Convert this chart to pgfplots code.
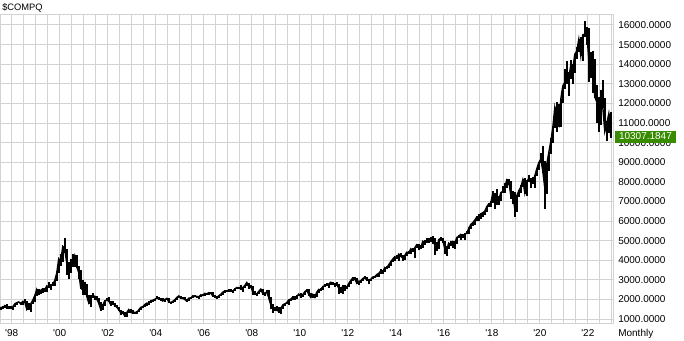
\documentclass[border=0pt]{standalone}
\usepackage{pgfplots}
\pgfplotsset{compat=1.18}
\usepackage{pgfplotstable}
\usepackage{fontspec}
\newfontfamily\lf{Liberation Sans}
\definecolor{gridc}{RGB}{211,211,211}
\definecolor{lastg}{RGB}{56,140,0}
\pgfplotstableread{
h l c
1605 1441 1594
1650 1560 1587
1700 1580 1686
1745 1530 1594
1650 1535 1601
1650 1540 1570
1625 1465 1619
1775 1615 1771
1840 1740 1835
1890 1820 1868
1880 1775 1779
1900 1740 1895
2015 1860 1872
1895 1480 1499
1800 1470 1694
1780 1357 1771
1950 1750 1950
2200 1880 2193
2540 2170 2506
2540 2250 2288
2490 2280 2461
2600 2350 2542
2590 2400 2471
2690 2390 2686
2870 2620 2638
2740 2490 2739
2890 2680 2746
2970 2680 2966
3440 2950 3336
4070 3330 4069
4300 3710 3940
4700 3930 4697
5132 4350 4573
4580 3220 3861
3920 3040 3401
4050 3360 3966
4300 3650 3767
4250 3640 4206
4260 3600 3673
3700 3040 3370
3500 2590 2598
2980 2250 2471
2890 2250 2773
2780 2150 2152
2230 1780 1840
2200 1620 2116
2320 2050 2110
2190 1990 2161
2150 1950 2027
2080 1800 1805
1850 1387 1499
1760 1480 1690
1940 1680 1931
2060 1910 1950
2100 1880 1934
1930 1700 1731
1930 1720 1845
1840 1660 1688
1690 1550 1616
1630 1440 1463
1480 1200 1328
1430 1290 1315
1350 1170 1172
1360 1108 1330
1480 1320 1479
1520 1330 1336
1470 1310 1321
1380 1270 1338
1430 1250 1341
1480 1340 1464
1600 1460 1596
1680 1590 1623
1760 1620 1735
1815 1670 1810
1910 1780 1787
1940 1800 1932
1980 1880 1960
2010 1920 2003
2150 2000 2066
2110 2000 2030
2060 1900 1994
2080 1920 1920
2000 1870 1987
2070 1960 2048
2060 1860 1887
1890 1750 1838
1920 1830 1897
1990 1880 1975
2110 1970 2097
2180 2080 2175
2190 2030 2062
2100 2020 2052
2110 1970 1999
2010 1890 1922
2080 1920 2068
2110 2040 2057
2190 2050 2185
2220 2120 2152
2170 2090 2152
2150 2030 2120
2240 2110 2233
2280 2200 2205
2330 2190 2306
2300 2230 2281
2340 2250 2340
2375 2300 2323
2360 2150 2179
2200 2070 2172
2180 2010 2091
2190 2050 2184
2260 2150 2258
2370 2240 2367
2470 2350 2432
2470 2390 2415
2510 2390 2464
2530 2400 2416
2460 2330 2422
2560 2410 2525
2620 2510 2605
2640 2540 2603
2730 2540 2546
2640 2390 2596
2720 2560 2702
2860 2690 2859
2850 2540 2661
2740 2580 2652
2660 2200 2390
2420 2250 2271
2340 2150 2279
2430 2270 2413
2550 2390 2523
2550 2290 2293
2340 2170 2326
2480 2310 2368
2460 2040 2092
2140 1490 1721
1780 1300 1536
1620 1400 1577
1670 1440 1476
1600 1370 1378
1590 1265 1529
1730 1490 1717
1780 1650 1774
1880 1770 1835
1990 1730 1979
2040 1940 2009
2170 1990 2122
2190 2040 2045
2200 2020 2145
2295 2150 2269
2330 2140 2147
2250 2100 2238
2420 2240 2398
2535 2390 2461
2520 2170 2257
2330 2110 2109
2300 2060 2255
2300 2100 2114
2380 2110 2369
2520 2350 2507
2590 2470 2498
2675 2500 2653
2770 2650 2700
2840 2690 2782
2790 2600 2781
2890 2730 2874
2890 2760 2835
2840 2630 2774
2890 2740 2756
2770 2300 2579
2650 2330 2415
2750 2300 2684
2720 2440 2620
2680 2520 2605
2820 2620 2814
2990 2810 2967
3130 2940 3092
3135 2970 3046
3080 2780 2827
2940 2730 2935
2990 2840 2940
3080 2920 3067
3200 3060 3116
3130 2970 2977
3020 2810 3010
3050 2940 3020
3150 3050 3142
3200 3110 3160
3270 3150 3268
3340 3150 3329
3530 3320 3456
3490 3290 3403
3630 3400 3626
3700 3580 3590
3800 3580 3771
3950 3700 3920
4070 3890 4060
4180 3980 4177
4250 4080 4104
4320 3970 4308
4370 4170 4199
4280 3950 4115
4250 4030 4243
4410 4220 4408
4490 4340 4370
4590 4320 4580
4610 4480 4493
4640 4120 4631
4810 4620 4792
4815 4540 4736
4780 4560 4635
4970 4630 4964
5040 4800 4901
5120 4860 4941
5110 4900 5070
5160 4950 4987
5230 4840 5128
5120 4290 4777
4920 4490 4620
5060 4580 5054
5160 5000 5109
5150 4900 5007
5000 4310 4614
4700 4210 4558
4900 4550 4870
4970 4750 4775
4960 4600 4948
4990 4570 4843
5180 4840 5162
5270 5120 5213
5340 5030 5312
5340 5150 5189
5400 5030 5324
5490 5320 5383
5670 5360 5615
5870 5600 5825
5930 5770 5912
6070 5800 6048
6230 5990 6199
6340 6020 6140
6430 6090 6348
6440 6180 6429
6500 6330 6496
6750 6480 6728
6910 6690 6874
7000 6720 6903
7510 6930 7411
7430 6630 7273
7640 6800 7063
7290 6800 7066
7480 7030 7442
7810 7420 7510
7930 7430 7672
8130 7660 8110
8130 7860 8046
8050 7120 7306
7520 6880 7331
7490 6190 6635
7340 6450 7282
7590 7250 7533
7850 7440 7729
8140 7730 8095
8170 7440 7453
8070 7290 8006
8340 7980 8175
8200 7660 7963
8230 7870 7999
8340 7700 8292
8710 8300 8665
9000 8600 8973
9450 8940 9151
9840 8450 8567
9070 6631 7700
8980 7380 8890
9530 8550 9490
10220 9400 10059
10840 10000 10745
11830 10750 11775
12070 10520 11168
11970 10820 10912
12230 10820 12199
12900 12020 12888
13730 12730 13071
14180 13000 13192
13620 12400 13247
14210 13230 13962
14010 13000 13749
14530 13570 14504
14860 14270 14673
15290 14600 15259
15400 14440 14449
15510 14180 15498
16212 15400 15538
15900 15000 15645
15850 13095 14240
14620 13320 13751
14650 12550 14221
14290 12330 12335
12940 11000 12081
12320 10565 11029
12700 10920 12391
13180 11810 11816
12270 10680 10576
11120 10090 10988
11470 10500 11468
11570 10210 10307
}\compq
\begin{document}
\begin{tikzpicture}
\path[use as bounding box] (0,0) rectangle (513pt,255pt);
\begin{axis}[
  at={(0pt,12.75pt)}, anchor=south west,
  width=459.75pt, height=231.75pt, scale only axis,
  xmin=1997.51, xmax=2023.05, ymin=796, ymax=16561,
  scaled y ticks=false, scaled x ticks=false,
  axis line style={draw=gridc, line width=0.75pt},
  xtick={1998,2000,...,2022},
  xticklabels={'98,'00,'02,'04,'06,'08,'10,'12,'14,'16,'18,'20,'22},
  minor xtick={1998.5,1999,...,2023},
  ytick={1000,2000,...,16000},
  yticklabels={1000.0000,2000.0000,3000.0000,4000.0000,5000.0000,6000.0000,7000.0000,8000.0000,9000.0000,10000.0000,11000.0000,12000.0000,13000.0000,14000.0000,15000.0000,16000.0000},
  yticklabel pos=right,
  major tick length=0pt, minor tick length=0pt,
  grid=both,
  major grid style={draw=gridc, line width=0.75pt},
  minor grid style={draw=gridc, line width=0.75pt},
  tick label style={font=\lf\fontsize{7.5}{9}\selectfont, inner sep=0pt},
  yticklabel style={anchor=west, xshift=3.75pt},
  xticklabel style={anchor=north, yshift=-4.5pt},
]
\addplot[black, line width=1.1pt, mark=none,
  error bars/.cd, y dir=both, y explicit, error mark=none,
  error bar style={draw=black, line width=1.2pt}]
  table[x expr={1997.5+(\coordindex+0.5)/12}, y=c,
        y error plus expr={\thisrow{h}-\thisrow{c}},
        y error minus expr={\thisrow{c}-\thisrow{l}}] {\compq};
\end{axis}
\node[anchor=base west, font=\lf\fontsize{7}{8}\selectfont, inner sep=0pt]
  at (1.5pt,246.75pt) {\$COMPQ};
\node[anchor=north west, font=\lf\fontsize{7.5}{9}\selectfont, inner sep=0pt]
  at (463.5pt,8.25pt) {Monthly};
\node[anchor=west, fill=lastg, text=white, inner xsep=2.8pt, inner ysep=0pt,
      minimum height=9pt, font=\lf\fontsize{7.5}{9}\selectfont]
  at (461.25pt,152.6pt) {10307.1847};
\end{tikzpicture}
\end{document}
